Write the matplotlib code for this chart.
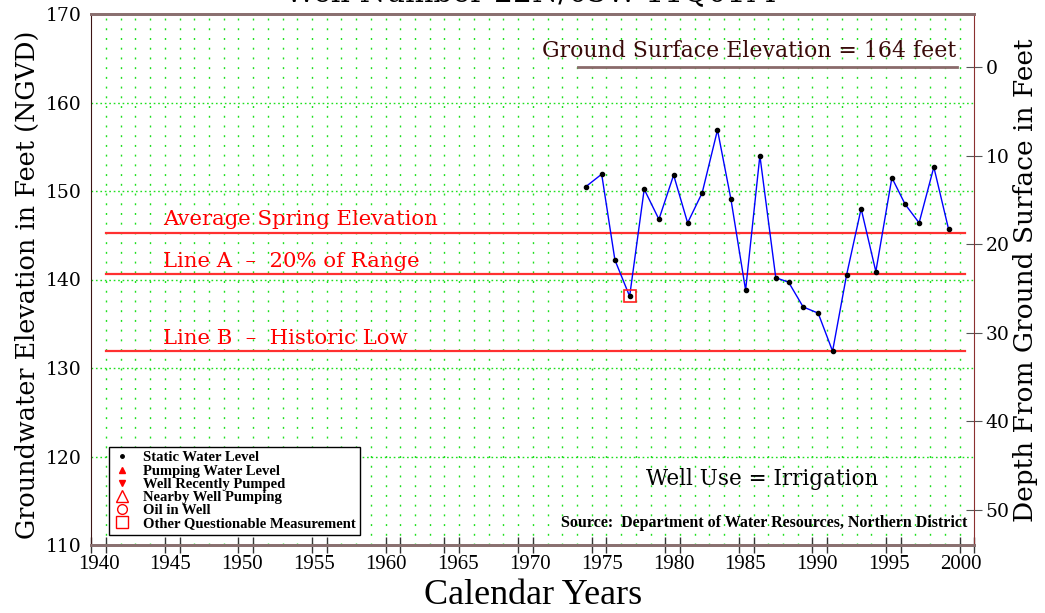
import matplotlib
matplotlib.use("Agg")
import matplotlib.pyplot as plt
from matplotlib.lines import Line2D
import numpy as np

# spring measurements (decimal year, elevation in feet NGVD)
years = [1973.61, 1974.68, 1975.58, 1976.58, 1977.57, 1978.57, 1979.57, 1980.52,
         1981.51, 1982.55, 1983.46, 1984.46, 1985.43, 1986.51, 1987.38, 1988.37,
         1989.39, 1990.37, 1991.32, 1992.31, 1993.31, 1994.40, 1995.30, 1996.25,
         1997.25, 1998.25]
elev = [150.5, 151.9, 142.2, 138.1, 150.2, 146.8, 151.8, 146.4,
        149.8, 156.9, 149.1, 138.8, 154.0, 140.2, 139.7, 136.9,
        136.2, 131.9, 140.5, 148.0, 140.9, 151.5, 148.5, 146.4,
        152.7, 145.7]
# questionable readings
q_years = [1976.58]
q_elev = [138.1]

ground_elev = 164
avg_spring = 145.3
line_a = 140.6
line_b = 131.9
ref_start, ref_end = 1941.0, 1999.4
gs_start, gs_end = 1973.1, 1998.8

year_labels = np.arange(1940, 2001, 5)
depth_ticks = np.arange(0, 51, 10)
elev_ticks = np.arange(110, 171, 10)

W, H = 1045, 613
fig = plt.figure(figsize=(W / 100, H / 100), dpi=100)
ax = fig.add_axes([91.3 / W, 1 - 545 / H, 883 / W, 531 / H])
ax.set_xlim(1940, 2000)
ax.set_ylim(110, 170)

green = "#1fe01f"
for y in elev_ticks[1:-1]:
    ax.axhline(y, color=green, lw=1, dashes=(1.2, 2.0), zorder=1)
ax.vlines(np.arange(1941, 2000), 110, 170, colors=green, lw=1,
          linestyles=(0, (1.4, 5.6)), zorder=1)

# reference lines
red = "#ff3030"
txt_kw = dict(family="DejaVu Serif", size=15.3, color="#ff0000", va="bottom")
for val, lab in [(avg_spring, "Average Spring Elevation"),
                 (line_a, "Line A  \u2013  20% of Range"),
                 (line_b, "Line B  \u2013  Historic Low")]:
    ax.plot([ref_start, ref_end], [val, val], color=red, lw=1.6, zorder=2)
    ax.text(1944.85, val + 0.4, lab, **txt_kw)

# ground surface
ax.plot([gs_start, gs_end], [ground_elev, ground_elev], color="#8a6a6a", lw=2, zorder=2)
ax.text(gs_end, ground_elev + 0.6, "Ground Surface Elevation = %d feet" % ground_elev,
        family="DejaVu Serif", size=15.8, color="#3a0a0a", ha="right", va="bottom")

# hydrograph
ax.plot(years, elev, color="#0000ff", lw=1, zorder=3)
ax.plot(years, elev, ls="none", marker="o", ms=3, color="black", zorder=4)
ax.plot(q_years, q_elev, ls="none", marker="s", ms=9, mfc="none", mec="#ff2020",
        mew=1.2, zorder=5)

ax.text(1985.6, 117.5, "Well Use = Irrigation", family="DejaVu Serif", size=15.5,
        ha="center", va="center")
ax.text(1999.5, 112.5, "Source:  Department of Water Resources, Northern District",
        family="Liberation Serif", weight="bold", size=11.5, ha="right", va="center")

# axes ticks
label_pos = np.linspace(1940.5, 1999.1, len(year_labels))
ax.set_xticks(label_pos)
ax.set_xticklabels([str(y) for y in year_labels], family="Liberation Serif", size=15)
pairs = []
for p in label_pos:
    a = round(p - 0.5)
    pairs += [a, a + 1]
ax.set_xticks(pairs, minor=True)
ax.tick_params(axis="x", which="major", length=0, pad=7)
ax.tick_params(axis="x", which="minor", direction="inout", length=11, color="#333333", width=1)
ax.set_yticks(elev_ticks)
ax.set_yticklabels([str(v) for v in elev_ticks], family="DejaVu Serif", size=13.5)
ax.tick_params(axis="y", length=0, pad=7)

ax2 = ax.twinx()
ax2.set_ylim(ground_elev - 110, ground_elev - 170)
ax2.set_yticks(depth_ticks)
ax2.set_yticklabels([str(v) for v in depth_ticks], family="DejaVu Serif", size=13.5)
ax2.tick_params(axis="y", direction="inout", length=12, color="#555555", pad=2)

for a in (ax, ax2):
    a.spines["top"].set_color("#8a7070")
    a.spines["bottom"].set_color("#8a7070")
    a.spines["top"].set_linewidth(2)
    a.spines["bottom"].set_linewidth(2)
ax.spines["left"].set_color("#3c1414")
ax2.spines["left"].set_visible(False)
ax.spines["right"].set_visible(False)
ax2.spines["right"].set_color("#8b3030")

handles = [
    Line2D([], [], ls="none", marker="o", ms=2.5, color="black", label="Static Water Level"),
    Line2D([], [], ls="none", marker="^", ms=5, color="#ff0000", label="Pumping Water Level"),
    Line2D([], [], ls="none", marker="v", ms=5, color="#ff0000", label="Well Recently Pumped"),
    Line2D([], [], ls="none", marker="^", ms=9, mfc="none", mec="#ff0000", label="Nearby Well Pumping"),
    Line2D([], [], ls="none", marker="o", ms=7, mfc="none", mec="#ff0000", label="Oil in Well"),
    Line2D([], [], ls="none", marker="s", ms=8, mfc="none", mec="#ff0000", label="Other Questionable Measurement"),
]
leg = ax2.legend(handles=handles, loc="lower left", bbox_to_anchor=(0.02, 0.019),
                 frameon=True, fancybox=False, edgecolor="black", framealpha=1,
                 borderpad=0.3, labelspacing=0.0, handlelength=1.2,
                 handletextpad=0.8, borderaxespad=0,
                 prop=dict(family="Liberation Serif", size=10.5, weight="bold"))
leg.get_frame().set_linewidth(1)

fig.text(0.508, 1 - 1.5 / H, "Well Number 22N/03W-11Q01M", family="DejaVu Serif",
         size=21.5, ha="center", va="baseline")
fig.text(27 / W, 1 - 285 / H, "Groundwater Elevation in Feet (NGVD)", family="DejaVu Serif",
         size=18.4, rotation=90, ha="center", va="center")
fig.text(1025 / W, 1 - 280 / H, "Depth From Ground Surface in Feet", family="DejaVu Serif",
         size=19, rotation=90, ha="center", va="center")
fig.text(533 / W, 1 - 595 / H, "Calendar Years", family="Liberation Serif", size=26,
         ha="center", va="center")

fig.savefig("out.png", dpi=100)
